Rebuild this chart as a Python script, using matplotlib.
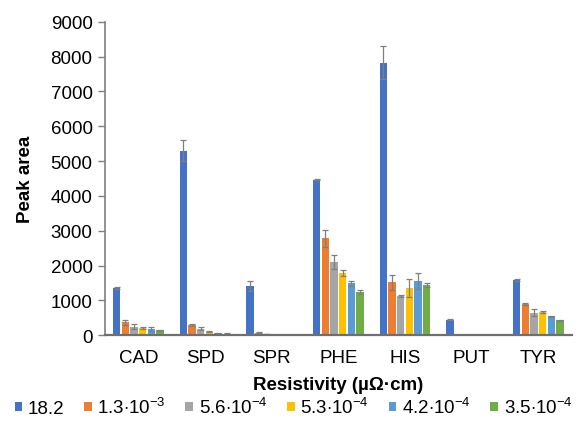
# Peak area by analyte at several resistivities (grouped bars with error bars)

import numpy as np
import matplotlib
matplotlib.use("Agg")
import matplotlib.pyplot as plt

# ----------------------------
# Data
# ----------------------------
CATEGORIES = ["CAD", "SPD", "SPR", "PHE", "HIS", "PUT", "TYR"]

SERIES_LABELS = [
    "18.2",
    r"1.3$\cdot$10$^{-3}$",
    r"5.6$\cdot$10$^{-4}$",
    r"5.3$\cdot$10$^{-4}$",
    r"4.2$\cdot$10$^{-4}$",
    r"3.5$\cdot$10$^{-4}$",
]

V_18_2 = [1350, 5300, 1410, 4470, 7830, 450, 1580]
V_1_3E3 = [370, 290, 70, 2780, 1515, 0, 890]
V_5_6E4 = [240, 190, 40, 2090, 1120, 0, 650]
V_5_3E4 = [210, 100, 0, 1780, 1360, 0, 670]
V_4_2E4 = [180, 50, 0, 1490, 1560, 0, 540]
V_3_5E4 = [140, 40, 0, 1245, 1440, 0, 430]

E_18_2 = [20, 300, 150, 20, 480, 20, 30]
E_1_3E3 = [80, 20, 10, 250, 210, 0, 30]
E_5_6E4 = [70, 50, 5, 200, 20, 0, 100]
E_5_3E4 = [30, 20, 0, 80, 250, 0, 30]
E_4_2E4 = [60, 15, 0, 80, 240, 0, 20]
E_3_5E4 = [20, 15, 0, 60, 70, 0, 20]

VALUES = [V_18_2, V_1_3E3, V_5_6E4, V_5_3E4, V_4_2E4, V_3_5E4]
ERRORS = [E_18_2, E_1_3E3, E_5_6E4, E_5_3E4, E_4_2E4, E_3_5E4]

COLORS = ["#4472C4", "#ED7D31", "#A5A5A5", "#FFC000", "#5B9BD5", "#70AD47"]

# ----------------------------
# Style
# ----------------------------
plt.rcParams["font.family"] = ["Liberation Sans", "DejaVu Sans"]
plt.rcParams["mathtext.fontset"] = "custom"
plt.rcParams["mathtext.rm"] = "Liberation Sans"
plt.rcParams["mathtext.it"] = "Liberation Sans:italic"
plt.rcParams["mathtext.bf"] = "Liberation Sans:bold"

FS = 13.5

fig = plt.figure(figsize=(5.87, 4.31), dpi=100)
ax = fig.add_axes([0.179, 0.220, 0.795, 0.727])

x = np.arange(len(CATEGORIES))
slot = 0.13
width = 0.11
offsets = (np.arange(len(VALUES)) - (len(VALUES) - 1) / 2) * slot

for vals, errs, col, lab, off in zip(VALUES, ERRORS, COLORS, SERIES_LABELS, offsets):
    ax.bar(x + off, vals, width, color=col, label=lab, zorder=2)
    ax.errorbar(x + off, vals, yerr=errs, fmt="none", ecolor="#7f7f7f",
                elinewidth=0.9, capsize=2, capthick=0.9, zorder=3)

ax.set_xlim(-0.5, len(CATEGORIES) - 0.5)
ax.set_ylim(0, 9000)
ax.set_yticks(np.arange(0, 9001, 1000))
ax.set_xticks(x)
ax.set_xticklabels(CATEGORIES)

ax.tick_params(axis="y", labelsize=FS, length=5, width=1, color="#7f7f7f", pad=4)
ax.tick_params(axis="x", labelsize=FS, length=0, pad=10)

for s in ["top", "right"]:
    ax.spines[s].set_visible(False)
ax.spines["left"].set_color("#7f7f7f")
ax.spines["left"].set_linewidth(1.2)
ax.spines["bottom"].set_color("#6f6f6f")
ax.spines["bottom"].set_linewidth(1.6)
ax.spines["bottom"].set_zorder(4)

ax.set_ylabel("Peak area", fontsize=FS, fontweight="bold", labelpad=12)
ax.set_xlabel(r"Resistivity (µΩ·cm)", fontsize=FS, fontweight="bold", labelpad=7)

fig.legend(loc="center", bbox_to_anchor=(0.5, 0.053), ncol=6, frameon=False,
           fontsize=FS, handlelength=0.4, handleheight=0.4, handletextpad=0.3,
           columnspacing=1.05, borderaxespad=0)

fig.savefig("out.png", dpi=100)
